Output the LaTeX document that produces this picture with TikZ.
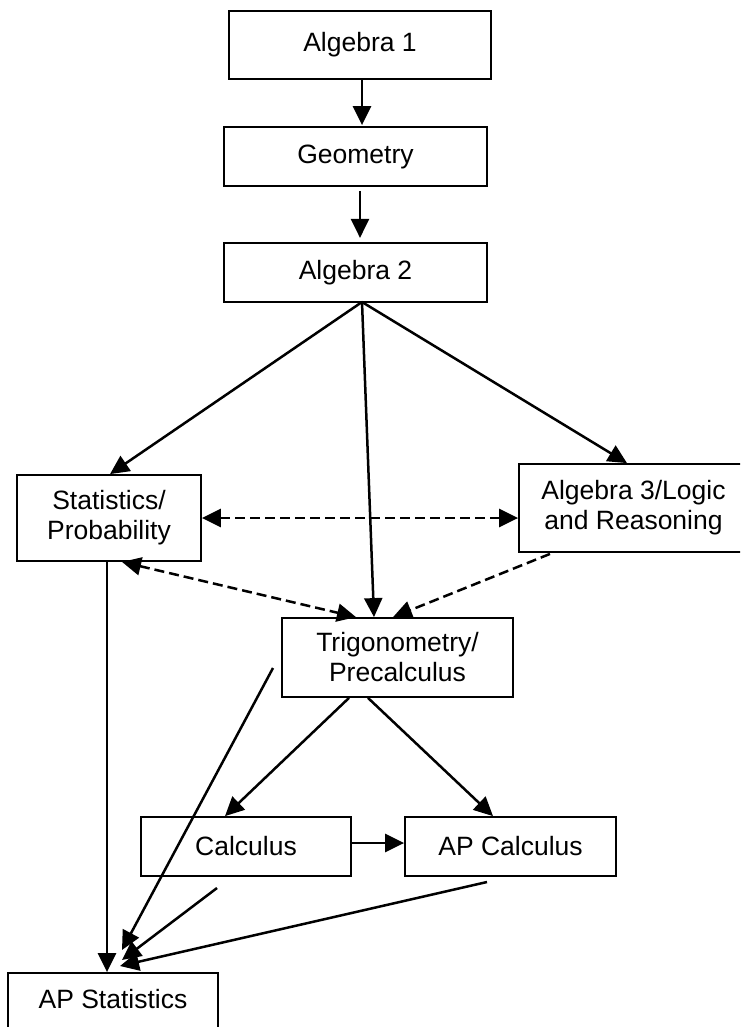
\documentclass[tikz,border=0pt]{standalone}
\usepackage{fontspec}
\setmainfont{Liberation Sans}
\usetikzlibrary{arrows.meta,calc}
\tikzset{
  box/.style={draw=black, line width=1.8pt, rectangle, inner sep=0pt, align=center,
              font=\fontsize{26.5}{30}\selectfont},
  arr/.style={line width=2.5pt, -{Triangle[length=19pt,width=18pt]}},
  darr/.style={line width=2.5pt, dash pattern=on 10pt off 5pt,
               {Triangle[length=19pt,width=18pt]}-{Triangle[length=19pt,width=18pt]}},
  dsarr/.style={line width=2.5pt, dash pattern=on 10pt off 5pt, -{Triangle[length=19pt,width=18pt]}},
}
\begin{document}
\begin{tikzpicture}[x=1pt,y=-1pt]
\clip (0,0) rectangle (740,1027);
\fill[white] (0,0) rectangle (740,1027);

\node[box, minimum width=262pt, minimum height=68pt] (alg1) at (360,45) {\raisebox{3pt}{Algebra 1}};
\node[box, minimum width=263pt, minimum height=59pt] (geo) at (355.5,156.5) {Geometry};
\node[box, minimum width=263pt, minimum height=59pt] (alg2) at (355.5,272.5) {Algebra 2};
\node[box, minimum width=184pt, minimum height=86pt] (stats) at (109,518) {Statistics/\\Probability};
\node[box, minimum width=229pt, minimum height=88pt] (alg3) at (633.5,508) {Algebra 3/Logic\\and Reasoning};
\node[box, minimum width=231pt, minimum height=79pt] (trig) at (397.5,657.5) {Trigonometry/\\Precalculus};
\node[box, minimum width=210pt, minimum height=59pt] (calc) at (246,846.5) {Calculus};
\node[box, minimum width=211pt, minimum height=59pt] (apcalc) at (510.5,846.5) {AP Calculus};
\node[box, minimum width=210pt, minimum height=59pt] (apstats) at (113,1002.5) {\raisebox{0pt}[20pt][8pt]{AP Statistics}};

% free ends
\coordinate (a2s) at (362,302);
\coordinate (trigfree) at (273,668);
\coordinate (calcfree) at (217,888);
\coordinate (apcalcfree) at (487,882);
\coordinate (endA) at (122,950);
\coordinate (endB) at (122,960);
\coordinate (endC) at (120,966);

% top chain
\draw[arr] ($(alg1.south -| 362,0)$) -- ($(geo.north -| 362,0)+(0,-1)$);
\draw[arr] ($(geo.south -| 360,0)+(0,4)$) -- ($(geo.south -| 360,0)+(0,51)$);

% from Algebra 2
\draw[arr] (a2s) -- (stats.north -| 110,0);
\draw[arr] (a2s) -- (trig.north -| 374,0);
\draw[arr] (a2s) -- (alg3.north -| 627,0);

% dashed
\draw[darr] (stats.east |- 0,518) -- (alg3.west |- 0,518);
\draw[darr] (stats.south -| 122,0) -- (trig.north -| 356,0);
\draw[dsarr] ($(alg3.south -| 550,0)+(0,1)$) -- (trig.north -| 393,0);

% from Trig
\draw[arr] (trig.south -| 349,0) -- (calc.north -| 225,0);
\draw[arr] (trig.south -| 368,0) -- (apcalc.north -| 493,0);
\draw[arr] (calc.east |- 0,843) -- (apcalc.west |- 0,843);

% into AP Statistics
\draw[arr] (stats.south -| 107,0) -- (apstats.north -| 107,0);
\draw[arr] (trigfree) -- (endA);
\draw[arr] (calcfree) -- (endB);
\draw[arr] (apcalcfree) -- (endC);
\end{tikzpicture}
\end{document}
